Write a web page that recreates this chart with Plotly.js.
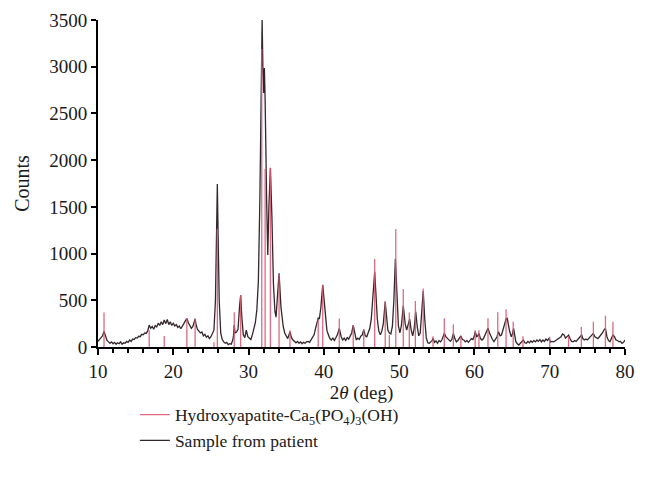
<!DOCTYPE html>
<html>
<head>
<meta charset="utf-8">
<script src="https://cdn.plot.ly/plotly-3.0.1.min.js"></script>
<style>
html,body{margin:0;padding:0;background:#fff;}
#chart{width:646px;height:482px;}
</style>
</head>
<body>
<div id="chart"></div>
<script>
// Sample from patient: 2theta (deg) and counts
const sampleTheta = [
10.0,10.2,10.4,10.6,10.8,11.0,11.2,11.4,11.6,11.8,12.0,12.2,12.4,12.6,12.8,13.0,13.2,13.4,13.6,13.8,
14.0,14.2,14.4,14.6,14.8,15.0,15.2,15.4,15.6,15.8,16.0,16.2,16.4,16.6,16.8,17.0,17.2,17.4,17.6,17.8,
18.0,18.2,18.4,18.6,18.8,19.0,19.2,19.4,19.6,19.8,20.0,20.2,20.4,20.6,20.8,21.0,21.2,21.4,21.6,21.8,
22.0,22.2,22.4,22.6,22.8,22.9,23.0,23.2,23.4,23.6,23.8,24.0,24.2,24.4,24.6,24.8,25.0,25.2,25.4,25.6,
25.75,25.85,25.95,26.1,26.3,26.5,26.7,26.9,27.1,27.3,27.5,27.7,27.9,28.0,28.1,28.2,28.4,28.6,28.8,28.95,
29.1,29.3,29.5,29.7,29.9,30.1,30.3,30.5,30.7,30.9,31.1,31.3,31.5,31.7,31.8,31.9,32.0,32.1,32.2,32.4,
32.55,32.7,32.9,33.1,33.3,33.5,33.65,33.8,34.05,34.3,34.6,34.8,35.0,35.2,35.5,35.7,35.9,36.1,36.3,36.5,
36.7,36.9,37.1,37.3,37.5,37.7,37.9,38.1,38.3,38.5,38.7,38.9,39.1,39.25,39.4,39.6,39.85,40.0,40.2,40.4,
40.6,40.8,41.0,41.2,41.4,41.6,41.8,42.05,42.3,42.5,42.7,42.9,43.1,43.3,43.5,43.7,43.9,44.1,44.3,44.5,
44.7,44.9,45.1,45.3,45.5,45.7,45.9,46.1,46.3,46.5,46.75,46.95,47.1,47.3,47.5,47.7,47.9,48.15,48.35,48.5,
48.7,48.9,49.1,49.3,49.5,49.7,49.9,50.1,50.3,50.55,50.8,51.0,51.2,51.4,51.6,51.8,52.0,52.2,52.4,52.6,
52.8,53.0,53.2,53.4,53.6,53.8,54.0,54.2,54.4,54.5,54.7,54.9,55.1,55.3,55.5,55.7,55.9,56.0,56.2,56.4,
56.6,56.8,57.0,57.2,57.4,57.6,57.8,58.0,58.2,58.4,58.6,58.8,59.0,59.2,59.4,59.6,59.8,60.0,60.1,60.3,
60.45,60.6,60.8,61.0,61.2,61.4,61.6,61.8,62.0,62.2,62.4,62.6,62.8,63.0,63.2,63.4,63.6,63.8,64.0,64.2,
64.35,64.5,64.7,64.9,65.05,65.2,65.35,65.5,65.7,65.9,66.1,66.3,66.5,66.7,66.9,67.1,67.3,67.5,67.7,67.9,
68.1,68.3,68.5,68.7,68.9,69.1,69.3,69.5,69.7,69.9,70.1,70.3,70.5,70.7,70.9,71.1,71.3,71.5,71.7,71.9,
72.1,72.3,72.5,72.7,72.9,73.1,73.3,73.5,73.7,73.9,74.1,74.25,74.4,74.6,74.8,75.0,75.2,75.4,75.6,75.8,
76.0,76.2,76.4,76.6,76.8,77.0,77.2,77.4,77.6,77.8,78.0,78.2,78.4,78.6,78.8,79.0,79.2,79.4,79.6,79.8,
80.0];
const sampleCounts = [
60,80,95,120,165,110,70,55,40,55,35,50,30,45,35,55,30,45,40,60,
50,75,60,85,80,100,95,115,110,135,130,150,145,170,235,200,220,190,230,215,
255,230,270,240,290,250,295,240,270,230,255,225,240,210,225,195,230,250,280,305,
260,230,200,220,280,300,250,190,170,150,160,120,135,105,120,90,110,140,180,500,
1395,1745,1216,500,150,80,55,40,50,25,35,30,75,120,235,150,160,190,430,557,
320,130,100,180,110,90,80,130,190,260,400,700,1570,2830,3500,3000,2720,2985,2650,1570,
985,1500,1915,1395,680,380,320,500,790,430,220,150,110,90,165,100,75,60,45,60,
40,55,35,50,40,55,60,50,75,95,130,200,280,310,300,420,665,550,325,180,
130,90,75,95,70,100,130,200,110,75,95,70,100,85,115,150,235,130,75,95,
80,115,130,185,120,110,150,200,300,510,806,520,300,170,130,170,250,485,280,180,
150,140,220,500,945,500,230,150,230,440,250,180,230,300,180,120,200,380,220,120,
150,350,600,300,100,45,40,55,70,93,50,65,40,70,55,80,120,146,110,90,
70,60,80,146,90,55,70,90,118,80,75,55,70,50,65,90,80,120,164,110,
120,146,90,75,90,128,150,200,150,110,80,57,80,110,164,120,128,180,235,300,
307,230,160,110,140,200,130,57,35,21,40,55,75,45,40,60,45,65,50,70,
55,75,60,80,55,75,60,85,70,90,55,60,55,65,75,85,95,110,140,130,
95,110,128,90,60,55,70,60,75,90,115,128,90,75,85,75,95,115,128,146,
110,95,90,110,128,150,182,200,110,70,57,90,128,110,75,70,57,60,39,50,
75];

// Hydroxyapatite reference pattern: peak positions and heights
const refTheta = [10.8,16.8,18.8,21.8,22.9,25.4,25.85,28.1,28.95,31.75,32.2,32.9,34.05,35.5,39.25,39.85,
42.05,43.9,45.3,46.75,48.15,48.7,49.55,50.55,51.35,52.15,53.2,54.5,56.0,57.2,58.2,60.1,60.6,61.8,
63.1,64.2,65.15,66.45,70.0,72.5,74.2,75.8,77.4,78.4];
const refCounts = [370,180,118,310,303,50,1260,371,557,3190,1905,1920,781,178,290,663,
305,235,186,942,492,130,1263,621,369,492,626,114,307,243,114,178,178,307,
371,403,271,114,110,118,213,271,335,271];

const xTickVals = [10,20,30,40,50,60,70,80];
const yTickVals = [0,500,1000,1500,2000,2500,3000,3500];

const serif = '"Liberation Serif", "DejaVu Serif", serif';

// build stick segments from the reference arrays
const stickX = [], stickY = [];
refTheta.forEach((t, i) => { stickX.push(t, t, null); stickY.push(0, refCounts[i], null); });

const traces = [
  {
    x: sampleTheta, y: sampleCounts, type: 'scatter', mode: 'lines',
    name: 'Sample from patient',
    line: {color: '#33262c', width: 1.3}
  },
  {
    x: stickX, y: stickY, type: 'scatter', mode: 'lines',
    name: 'Hydroxyapatite-Ca<sub>5</sub>(PO<sub>4</sub>)<sub>3</sub>(OH)',
    line: {color: '#dc5a74', width: 1.3}, opacity: 0.9
  }
];

const layout = {
  width: 646, height: 482,
  margin: {l: 98, r: 21, t: 20, b: 135},
  paper_bgcolor: '#fff', plot_bgcolor: '#fff',
  font: {family: serif, size: 19, color: '#1a1a1a'},
  showlegend: true,
  legend: {
    x: 0.07, xanchor: 'left', y: -0.152, yanchor: 'top',
    traceorder: 'reversed', orientation: 'v',
    font: {family: serif, size: 17.5, color: '#1a1a1a'},
    bgcolor: 'rgba(0,0,0,0)', itemwidth: 30, tracegroupgap: 0
  },
  xaxis: {
    range: [10, 80], tickvals: xTickVals, ticktext: xTickVals.map(String),
    ticks: 'outside', ticklen: 6, tickwidth: 2, tickcolor: '#000',
    showline: true, linecolor: '#000', linewidth: 2,
    showgrid: false, zeroline: false,
    minor: {dtick: 2, tick0: 10, ticks: 'outside', ticklen: 4, tickwidth: 2, tickcolor: '#000', showgrid: false},
    tickfont: {family: serif, size: 19, color: '#1a1a1a'},
    title: {text: '2<i>θ</i> (deg)', font: {family: serif, size: 19, color: '#1a1a1a'}, standoff: 0}
  },
  yaxis: {
    range: [0, 3500], tickvals: yTickVals, ticktext: yTickVals.map(String),
    ticks: 'outside', ticklen: 5, tickwidth: 2, tickcolor: '#000',
    showline: true, linecolor: '#000', linewidth: 2,
    showgrid: false, zeroline: false,
    tickfont: {family: serif, size: 19, color: '#1a1a1a'},
    title: {text: 'Counts', font: {family: serif, size: 20, color: '#1a1a1a'}, standoff: 14}
  }
};

Plotly.newPlot('chart', traces, layout, {displayModeBar: false, staticPlot: true});
</script>
</body>
</html>
